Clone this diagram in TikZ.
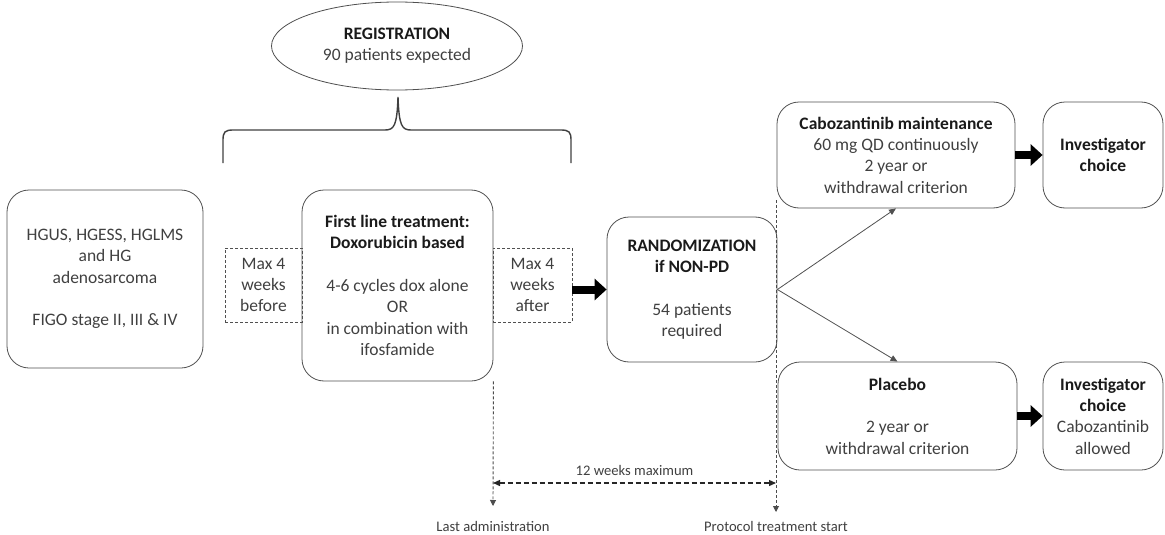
\documentclass[tikz,border=0pt]{standalone}
\usepackage{fontspec}
\setmainfont{Carlito}
\usetikzlibrary{arrows.meta,shapes.geometric}
\definecolor{linec}{HTML}{505050}
\definecolor{txt}{HTML}{404040}
\definecolor{bld}{HTML}{1A1A1A}
\newcommand{\bfx}[1]{\textcolor{bld}{\textbf{#1}}}
\begin{document}
\begin{tikzpicture}[x=1pt,y=-1pt,
  mainfont/.style={font=\fontsize{17.5}{21.3}\selectfont},
  smallfont/.style={font=\fontsize{14.6}{16}\selectfont},
  box/.style={draw=linec, line width=0.8pt, rounded corners=22pt, align=center, inner sep=0pt, text=txt, mainfont},
  dbox/.style={draw=linec, line width=0.8pt, dash pattern=on 3pt off 2pt, align=center, inner sep=0pt, text=txt, mainfont},
  bigarrow/.style={draw=black, line width=8pt, -{Triangle[length=12pt,width=21pt]}},
  branch/.style={draw=linec, line width=0.8pt, -{Triangle[length=7pt,width=6pt]}},
  vdash/.style={draw=black!70, line width=0.9pt, dash pattern=on 3pt off 2pt, -{Triangle[length=6pt,width=6pt]}},
  hdash/.style={draw=black!85, line width=1.3pt, dash pattern=on 5pt off 3pt, {Triangle[length=7pt,width=6pt]}-{Triangle[length=7pt,width=6pt]}},
  lbl/.style={text=txt, smallfont, inner sep=0pt}
]
\useasboundingbox (0,0) rectangle (1165,535);

% registration ellipse
\node[ellipse, draw=linec, line width=0.8pt, minimum width=251pt, minimum height=88pt, inner sep=0pt, align=center, text=txt, mainfont] (reg) at (397,46) {\bfx{REGISTRATION}\\90 patients expected};

% brace
\draw[linec!80!black, line width=1.4pt] (223,163) -- (223,140) .. controls (223,132) and (225,130) .. (233,130) -- (385,130) .. controls (394,130) and (397,126) .. (398,97) .. controls (399,126) and (402,130) .. (411,130) -- (561,130) .. controls (569,130) and (571,132) .. (571,140) -- (571,163);

% boxes
\node[box, minimum width=196pt, minimum height=178pt] (inc) at (105,279) {HGUS, HGESS, HGLMS\\and HG\\adenosarcoma\\[21.3pt]FIGO stage II, III \& IV};
\node[dbox, minimum width=77pt, minimum height=74pt] (before) at (263.5,285) {Max 4\\weeks\\before};
\node[box, minimum width=191pt, minimum height=191pt] (first) at (397.5,285.5) {\bfx{First line treatment:}\\\bfx{Doxorubicin based}\\[21.3pt]4-6 cycles dox alone\\OR\\in combination with\\ifosfamide};
\node[dbox, minimum width=79pt, minimum height=74pt] (after) at (532.5,285) {Max 4\\weeks\\after};
\node[box, minimum width=170pt, minimum height=145pt] (rand) at (692,289.5) {\bfx{RANDOMIZATION}\\\bfx{if NON-PD}\\[21.3pt]54 patients\\required};
\node[box, minimum width=238pt, minimum height=106pt] (cabo) at (896,155) {\bfx{Cabozantinib maintenance}\\60 mg QD continuously\\2 year or\\withdrawal criterion};
\node[box, minimum width=120pt, minimum height=106pt] (inv1) at (1103,155) {\bfx{Investigator}\\\bfx{choice}};
\node[box, minimum width=239pt, minimum height=108pt] (plac) at (897.5,416) {\bfx{Placebo}\\[21.3pt]2 year or\\withdrawal criterion};
\node[box, minimum width=120pt, minimum height=108pt] (inv2) at (1103,416) {\bfx{Investigator}\\\bfx{choice}\\Cabozantinib\\allowed};

% thick arrows
\draw[bigarrow] (after.east |- rand.west) -- (rand.west);
\draw[bigarrow] (cabo.east) -- (inv1.west);
\draw[bigarrow] (plac.east) -- (inv2.west);

% branches
\draw[branch] (rand.east) -- (cabo.south);
\draw[branch] (rand.east) -- (plac.north);

% timeline
\coordinate (ptop) at (776,200);
\coordinate (pend) at (776,512);
\coordinate (lend) at (493,506);
\coordinate (la) at (493,483);
\coordinate (pa) at (776,483);
\draw[vdash] (first.south east) -- (lend);
\draw[vdash] (ptop) -- (pend);
\draw[hdash] (la) -- node[lbl, above=7pt] (wk) {12 weeks maximum} (pa);
\node[lbl] (lastlbl) at (493,526) {Last administration};
\node[lbl] (protlbl) at (776,526) {Protocol treatment start};
\end{tikzpicture}
\end{document}
